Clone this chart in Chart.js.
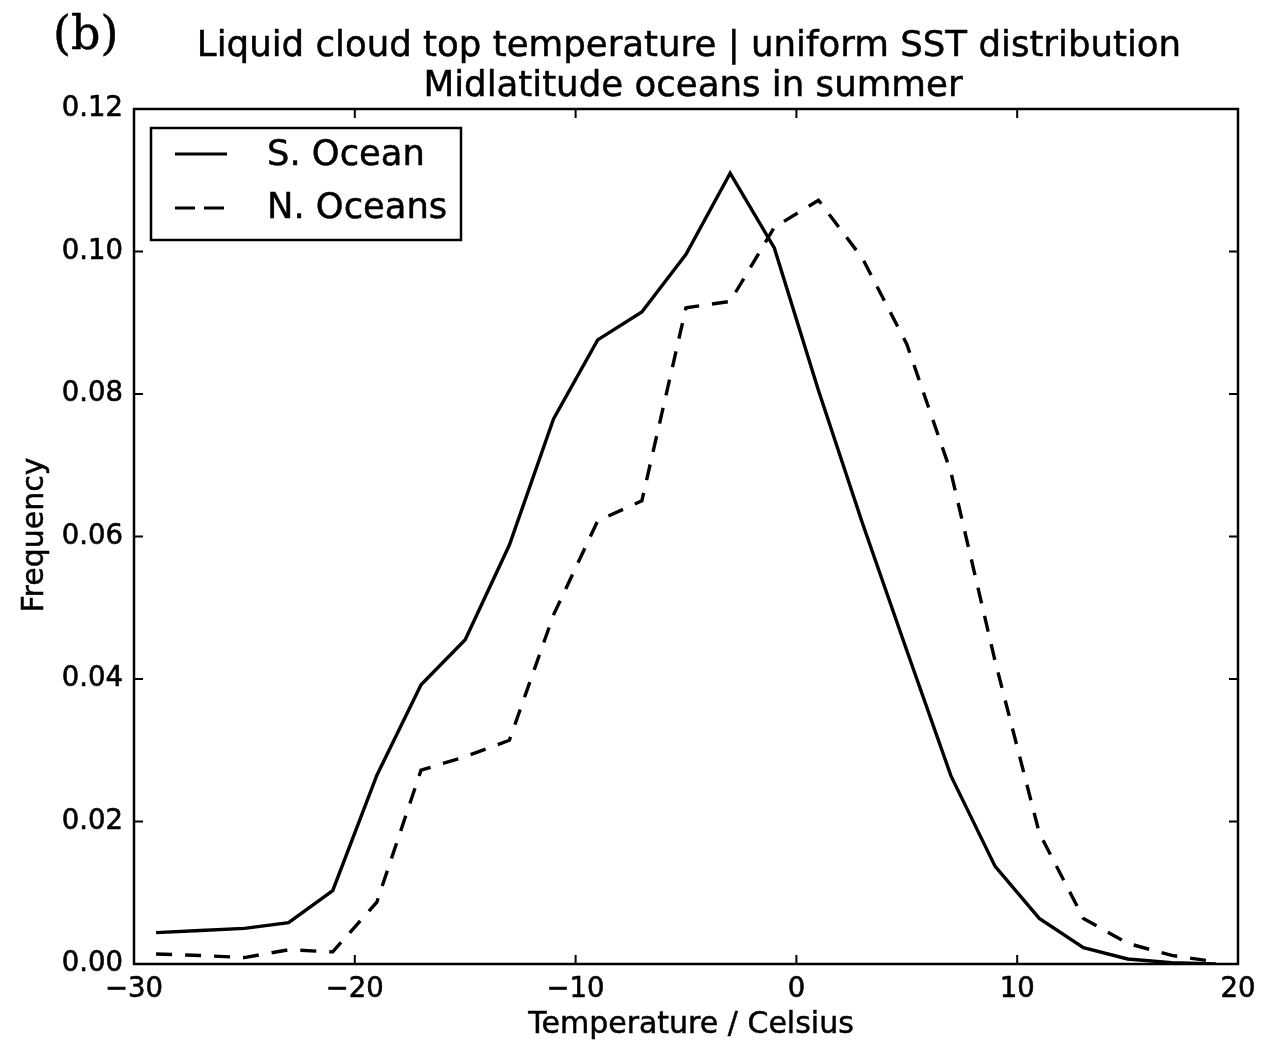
<!DOCTYPE html>
<html>
<head>
<meta charset="utf-8">
<script src="https://cdn.jsdelivr.net/npm/chart.js@4.4.0/dist/chart.umd.min.js"></script>
<style>
  html, body { margin: 0; padding: 0; background: #fff; }
</style>
</head>
<body>
<canvas id="cloudChart" width="1263" height="1044"></canvas>
<script>
// bin centres (Celsius)
const temps = [-29, -27, -25, -23, -21, -19, -17, -15, -13, -11, -9, -7, -5, -3, -1, 1, 3, 5, 7, 9, 11, 13, 15, 17, 19];

const sOcean = [0.0044, 0.0047, 0.0050, 0.0058, 0.0103, 0.0265, 0.0392, 0.0455, 0.0588, 0.0765,
                0.0876, 0.0915, 0.0996, 0.1110, 0.1005, 0.0805, 0.0618, 0.0440, 0.0264, 0.0137,
                0.0064, 0.0023, 0.0007, 0.0002, 0.0000];

const nOceans = [0.0014, 0.0012, 0.0009, 0.0020, 0.0017, 0.0087, 0.0272, 0.0291, 0.0314, 0.0490,
                 0.0622, 0.0650, 0.0921, 0.0930, 0.1034, 0.1072, 0.0990, 0.0870, 0.0690, 0.0425,
                 0.0184, 0.0064, 0.0029, 0.0012, 0.0003];

const xTicks = [-30, -20, -10, 0, 10, 20];
const yTicks = [0, 0.02, 0.04, 0.06, 0.08, 0.10, 0.12];

const titleLines = ['Liquid cloud top temperature | uniform SST distribution', 'Midlatitude oceans in summer'];
const seriesNames = ['S. Ocean', 'N. Oceans'];

const FONT = '"DejaVu Sans", sans-serif';

// fill + thin stroke so the text looks as heavy as the scanned figure
function heavyText(ctx, txt, x, y) {
    ctx.fillText(txt, x, y);
    ctx.strokeText(txt, x, y);
}

// matplotlib-ish frame, inward ticks, title, panel letter and legend box
const decor = {
    id: 'decor',
    afterDraw(chart) {
        const ctx = chart.ctx;
        const a = chart.chartArea;
        const xs = chart.scales.x, ys = chart.scales.y;
        ctx.save();
        ctx.strokeStyle = '#000';
        ctx.lineWidth = 2.5;
        ctx.strokeRect(a.left, a.top, a.right - a.left, a.bottom - a.top);

        ctx.lineWidth = 2;
        const tl = 9;
        ctx.beginPath();
        xTicks.forEach(v => {
            const px = xs.getPixelForValue(v);
            ctx.moveTo(px, a.bottom); ctx.lineTo(px, a.bottom - tl);
            ctx.moveTo(px, a.top); ctx.lineTo(px, a.top + tl);
        });
        yTicks.forEach(v => {
            const py = ys.getPixelForValue(v);
            ctx.moveTo(a.left, py); ctx.lineTo(a.left + tl, py);
            ctx.moveTo(a.right, py); ctx.lineTo(a.right - tl, py);
        });
        ctx.stroke();

        // title
        ctx.fillStyle = '#000';
        ctx.lineWidth = 0.5;
        ctx.textAlign = 'center';
        ctx.textBaseline = 'middle';
        ctx.font = '35.6px ' + FONT;
        heavyText(ctx, titleLines[0], 689, 47);
        heavyText(ctx, titleLines[1], 693, 87);

        // x / y axis titles
        ctx.font = '30px ' + FONT;
        heavyText(ctx, 'Temperature / Celsius', 691, 1025);
        ctx.save();
        ctx.translate(35, 535);
        ctx.rotate(-Math.PI / 2);
        heavyText(ctx, 'Frequency', 0, 0);
        ctx.restore();

        // panel letter
        ctx.textAlign = 'left';
        ctx.font = '46px "DejaVu Serif", serif';
        heavyText(ctx, '(b)', 53, 37);

        // legend
        ctx.lineWidth = 2.5;
        ctx.strokeRect(151, 128, 310, 112);
        ctx.lineWidth = 3.2;
        ctx.beginPath();
        ctx.moveTo(175, 154); ctx.lineTo(227, 154);
        ctx.stroke();
        ctx.setLineDash([20, 9]);
        ctx.beginPath();
        ctx.moveTo(175, 208); ctx.lineTo(227, 208);
        ctx.stroke();
        ctx.setLineDash([]);
        ctx.lineWidth = 0.5;
        ctx.font = '35.3px ' + FONT;
        heavyText(ctx, seriesNames[0], 267, 156);
        heavyText(ctx, seriesNames[1], 267, 209);
        ctx.restore();
    }
};

new Chart(document.getElementById('cloudChart'), {
    type: 'line',
    data: {
        datasets: [{
            label: seriesNames[0],
            data: temps.map((t, i) => ({ x: t, y: sOcean[i] })),
            borderColor: '#000',
            borderWidth: 3.4,
            pointRadius: 0,
            tension: 0,
            fill: false
        }, {
            label: seriesNames[1],
            data: temps.map((t, i) => ({ x: t, y: nOceans[i] })),
            borderColor: '#000',
            borderWidth: 3.4,
            borderDash: [16, 13],
            pointRadius: 0,
            tension: 0,
            fill: false
        }]
    },
    options: {
        responsive: false,
        animation: false,
        layout: { padding: { top: 109, right: 25, bottom: 0, left: 0 } },
        plugins: {
            legend: { display: false },
            tooltip: { enabled: false }
        },
        scales: {
            x: {
                type: 'linear',
                min: -30,
                max: 20,
                afterBuildTicks: s => { s.ticks = xTicks.map(v => ({ value: v })); },
                afterFit: s => { s.height = 80; },
                grid: { display: false },
                border: { display: false },
                ticks: {
                    color: '#000',
                    padding: 1,
                    maxRotation: 0,
                    textStrokeColor: '#000',
                    textStrokeWidth: 0.6,
                    font: { family: FONT, size: 27.5 },
                    callback: v => (v < 0 ? '\u2212' + Math.abs(v) : String(v))
                }
            },
            y: {
                min: 0,
                max: 0.12,
                afterBuildTicks: s => { s.ticks = yTicks.map(v => ({ value: v })); },
                afterFit: s => { s.width = 134; },
                grid: { display: false },
                border: { display: false },
                ticks: {
                    color: '#000',
                    padding: 3,
                    textStrokeColor: '#000',
                    textStrokeWidth: 0.6,
                    font: { family: FONT, size: 27.5 },
                    callback: v => v.toFixed(2)
                }
            }
        }
    },
    plugins: [decor]
});
</script>
</body>
</html>
